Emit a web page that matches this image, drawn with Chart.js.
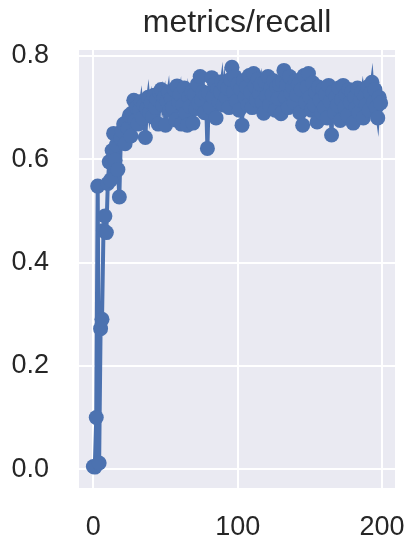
<!DOCTYPE html>
<html>
<head>
<meta charset="utf-8">
<script src="https://cdn.jsdelivr.net/npm/chart.js@4"></script>
<style>
  html, body { margin: 0; padding: 0; background: #fff; }
  #wrap { width: 417px; height: 550px; }
</style>
</head>
<body>
<div id="wrap"><canvas id="recall-chart"></canvas></div>
<script>
const chartTitle = 'metrics/recall';
const xTicks = [0, 100, 200];
const yTicks = [0.0, 0.2, 0.4, 0.6, 0.8];

// recall per epoch (epoch = index)
const recall = [
  0.005, 0.004, 0.10, 0.548, 0.012, 0.272, 0.29, 0.462, 0.49, 0.458,
  0.553, 0.595, 0.56, 0.617, 0.65, 0.598, 0.628, 0.58, 0.527, 0.64,
  0.655, 0.668, 0.63, 0.672, 0.66, 0.685, 0.645, 0.69, 0.714, 0.675,
  0.70, 0.668, 0.695, 0.712, 0.68, 0.705, 0.642, 0.698, 0.72, 0.69,
  0.71, 0.682, 0.724, 0.70, 0.716, 0.668, 0.728, 0.735, 0.705, 0.72,
  0.666, 0.712, 0.73, 0.695, 0.718, 0.70, 0.735, 0.676, 0.742, 0.71,
  0.726, 0.668, 0.705, 0.738, 0.69, 0.666, 0.72, 0.702, 0.73, 0.67,
  0.725, 0.698, 0.745, 0.708, 0.76, 0.715, 0.73, 0.69, 0.725, 0.621,
  0.728, 0.70, 0.758, 0.72, 0.745, 0.68, 0.735, 0.71, 0.73, 0.75,
  0.705, 0.742, 0.72, 0.738, 0.70, 0.755, 0.778, 0.73, 0.76, 0.712,
  0.745, 0.695, 0.736, 0.666, 0.752, 0.72, 0.74, 0.705, 0.762, 0.73,
  0.70, 0.766, 0.742, 0.715, 0.755, 0.728, 0.745, 0.71, 0.689, 0.75,
  0.722, 0.76, 0.705, 0.738, 0.725, 0.752, 0.695, 0.74, 0.718, 0.745,
  0.688, 0.75, 0.772, 0.72, 0.745, 0.70, 0.76, 0.728, 0.74, 0.71,
  0.752, 0.725, 0.745, 0.69, 0.735, 0.666, 0.762, 0.71, 0.74, 0.766,
  0.72, 0.695, 0.748, 0.705, 0.73, 0.672, 0.74, 0.715, 0.69, 0.735,
  0.70, 0.725, 0.68, 0.743, 0.712, 0.647, 0.73, 0.69, 0.72, 0.705,
  0.738, 0.675, 0.715, 0.743, 0.70, 0.725, 0.685, 0.735, 0.71, 0.73,
  0.67, 0.72, 0.70, 0.738, 0.69, 0.715, 0.73, 0.68, 0.722, 0.705,
  0.74, 0.695, 0.728, 0.749, 0.71, 0.735, 0.70, 0.68, 0.72, 0.709
];

const lineColor = '#4C72B0';
const textColor = '#262626';
const fontFamily = '"Liberation Sans", Arial, sans-serif';

// seaborn-like grey panel behind the grid
const plotBackground = {
  id: 'plotBackground',
  beforeDraw(chart) {
    const { ctx, chartArea: a } = chart;
    ctx.save();
    ctx.fillStyle = '#EAEAF2';
    ctx.fillRect(a.left, a.top, a.right - a.left, a.bottom - a.top);
    ctx.restore();
  }
};

// title centred over the plot area, not the whole canvas
const plotTitle = {
  id: 'plotTitle',
  afterDraw(chart) {
    const { ctx, chartArea: a } = chart;
    ctx.save();
    ctx.fillStyle = textColor;
    ctx.font = `32px ${fontFamily}`;
    ctx.textAlign = 'center';
    ctx.textBaseline = 'alphabetic';
    ctx.fillText(chartTitle, (a.left + a.right) / 2, 32);
    ctx.restore();
  }
};

function noOverflow(s) {
  s.paddingLeft = 0;
  s.paddingRight = 0;
  s.paddingTop = 0;
  s.paddingBottom = 0;
}

new Chart(document.getElementById('recall-chart'), {
  type: 'line',
  data: {
    datasets: [{
      data: recall.map((y, i) => ({ x: i, y })),
      borderColor: lineColor,
      backgroundColor: lineColor,
      borderWidth: 4,
      pointRadius: 7.5,
      pointBorderWidth: 0,
      pointBackgroundColor: lineColor,
      tension: 0,
      clip: false
    }]
  },
  plugins: [plotBackground, plotTitle],
  options: {
    responsive: true,
    maintainAspectRatio: false,
    animation: false,
    layout: { padding: { left: 0, right: 22, top: 50, bottom: 0 } },
    plugins: {
      legend: { display: false },
      tooltip: { enabled: false },
      title: { display: false }
    },
    scales: {
      x: {
        type: 'linear',
        min: -9.95,
        max: 208.95,
        afterFit: s => { s.height = 62; noOverflow(s); },
        afterBuildTicks: s => { s.ticks = xTicks.map(v => ({ value: v })); },
        grid: { color: '#ffffff', lineWidth: 2, drawTicks: false },
        border: { display: false },
        ticks: {
          color: textColor,
          padding: 23,
          maxRotation: 0,
          font: { family: fontFamily, size: 27 },
          callback: v => String(v)
        }
      },
      y: {
        min: -0.0365,
        max: 0.8115,
        afterFit: s => { s.width = 79; noOverflow(s); },
        afterBuildTicks: s => { s.ticks = yTicks.map(v => ({ value: v })); },
        grid: { color: '#ffffff', lineWidth: 2, drawTicks: false },
        border: { display: false },
        ticks: {
          color: textColor,
          padding: 30,
          font: { family: fontFamily, size: 27 },
          callback: v => Number(v).toFixed(1)
        }
      }
    }
  }
});
</script>
</body>
</html>
